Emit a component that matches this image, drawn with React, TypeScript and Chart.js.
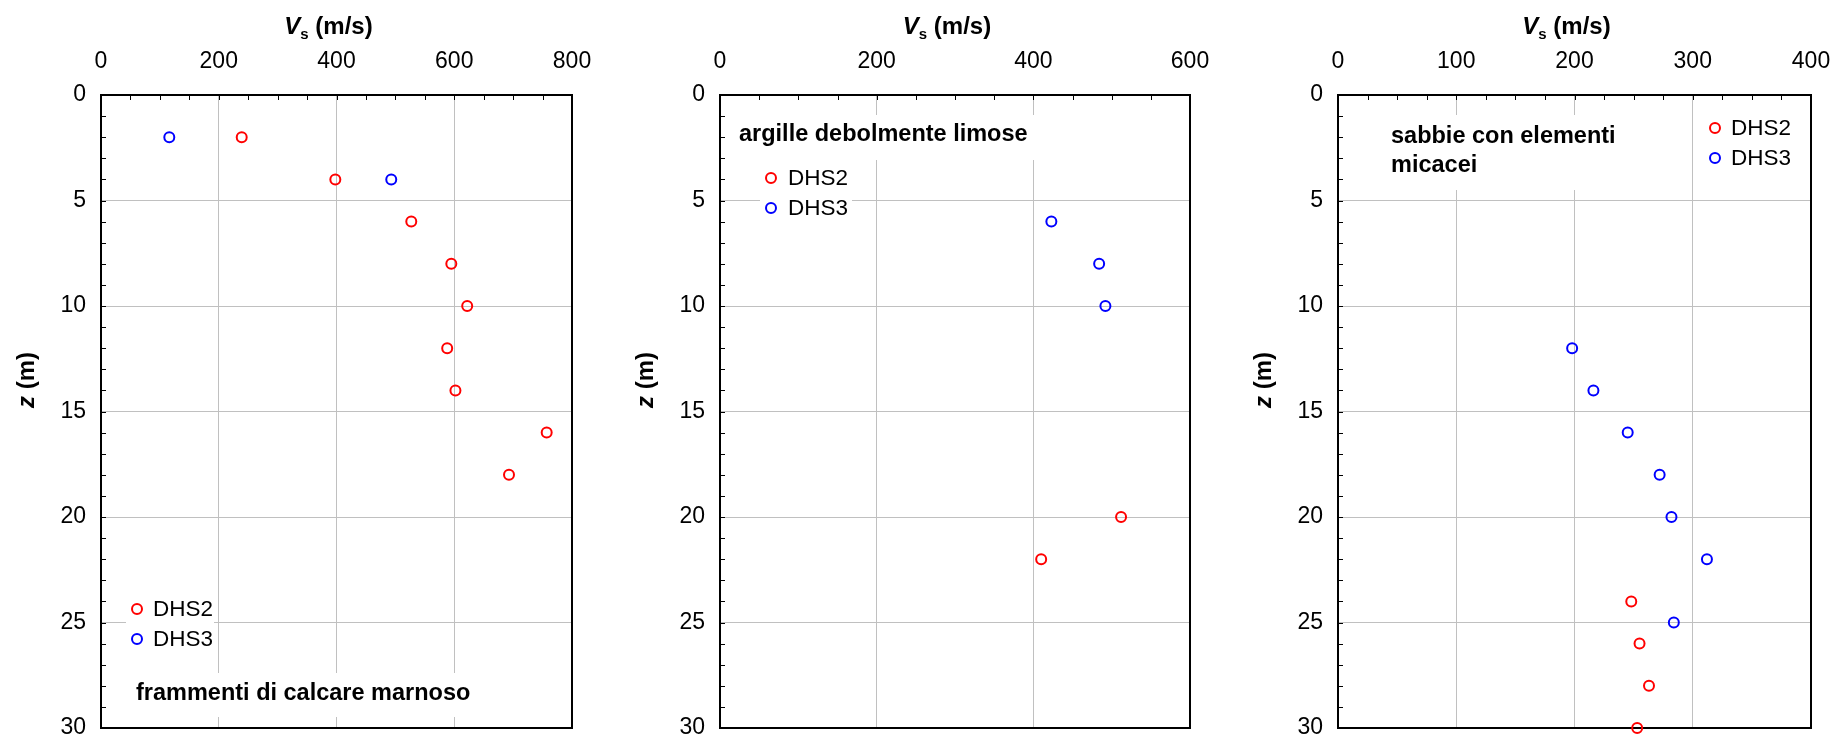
import React, { useEffect, useRef } from "react";
import { Chart, registerables } from "chart.js";

Chart.register(...registerables);

const FONT = "'Liberation Sans', Arial, Helvetica, sans-serif";

// ---------------- data ----------------
const seriesNames = ["DHS2", "DHS3"];
const seriesColors = ["#ff0000", "#0000ff"];

// panel 1 : frammenti di calcare marnoso
const p1Dhs2Depth = [2, 4, 6, 8, 10, 12, 14, 16, 18];
const p1Dhs2Vs = [239, 398, 527, 595, 622, 588, 602, 757, 693];
const p1Dhs3Depth = [2, 4];
const p1Dhs3Vs = [116, 493];

// panel 2 : argille debolmente limose
const p2Dhs2Depth = [20, 22];
const p2Dhs2Vs = [512, 410];
const p2Dhs3Depth = [6, 8, 10];
const p2Dhs3Vs = [423, 484, 492];

// panel 3 : sabbie con elementi micacei
const p3Dhs2Depth = [24, 26, 28, 30];
const p3Dhs2Vs = [248, 255, 263, 253];
const p3Dhs3Depth = [12, 14, 16, 18, 20, 22, 25];
const p3Dhs3Vs = [198, 216, 245, 272, 282, 312, 284];

// axes
const vsMax = [800, 600, 400];
const vsStep = [200, 200, 100];
const vsMinorStep = [50, 50, 25];
const depthMax = 30;
const depthStep = 5;
const depthMinorStep = 1;

const panelLabels = [
  ["frammenti di calcare marnoso"],
  ["argille debolmente limose"],
  ["sabbie con elementi", "micacei"],
];

// ---------------- layout ----------------
const Y_W = 95;
const RIGHT_PAD = 20;
const CANVAS_H = 737;
const PLOT_TOP = 95;
const PLOT_BOTTOM = 728;

type Box = { x0: number; y0: number; x1: number; y1: number };
type PanelLayout = {
  plotLeft: number;
  plotRight: number;
  labelX: number;
  labelY: number[];
  labelBox: Box;
  legendMarkerX: number;
  legendTextX: number;
  legendY: number[];
  legendBox: Box;
};

const layouts: PanelLayout[] = [
  {
    plotLeft: 101,
    plotRight: 572,
    labelX: 35,
    labelY: [599],
    labelBox: { x0: 27, y0: 578, x1: 377, y1: 622 },
    legendMarkerX: 36,
    legendTextX: 52,
    legendY: [514, 544],
    legendBox: { x0: 25, y0: 497, x1: 113, y1: 560 },
  },
  {
    plotLeft: 720,
    plotRight: 1190,
    labelX: 19,
    labelY: [40],
    labelBox: { x0: 14, y0: 20, x1: 314, y1: 65 },
    legendMarkerX: 51,
    legendTextX: 68,
    legendY: [83, 113],
    legendBox: { x0: 40, y0: 68, x1: 132, y1: 130 },
  },
  {
    plotLeft: 1338,
    plotRight: 1811,
    labelX: 53,
    labelY: [42, 71],
    labelBox: { x0: 47, y0: 20, x1: 282, y1: 95 },
    legendMarkerX: 377,
    legendTextX: 393,
    legendY: [33, 63],
    legendBox: { x0: 365, y0: 18, x1: 460, y1: 78 },
  },
];

const panelData = [
  [
    [p1Dhs2Vs, p1Dhs2Depth],
    [p1Dhs3Vs, p1Dhs3Depth],
  ],
  [
    [p2Dhs2Vs, p2Dhs2Depth],
    [p2Dhs3Vs, p2Dhs3Depth],
  ],
  [
    [p3Dhs2Vs, p3Dhs2Depth],
    [p3Dhs3Vs, p3Dhs3Depth],
  ],
];

const MARKER_R = 5;

function makePlugin(idx: number) {
  const L = layouts[idx];
  return {
    id: "decor" + idx,
    beforeDatasetsDraw(chart: any) {
      const ctx = chart.ctx as CanvasRenderingContext2D;
      const a = chart.chartArea;
      const xs = chart.scales.x;
      const ys = chart.scales.y;
      ctx.save();
      // white boxes hiding gridlines behind text
      ctx.fillStyle = "#ffffff";
      for (const b of [L.labelBox, L.legendBox]) {
        ctx.fillRect(a.left + b.x0, a.top + b.y0, b.x1 - b.x0, b.y1 - b.y0);
      }
      // panel label
      ctx.fillStyle = "#000000";
      ctx.font = `bold 23.5px ${FONT}`;
      ctx.textAlign = "left";
      ctx.textBaseline = "middle";
      panelLabels[idx].forEach((t, i) => {
        ctx.fillText(t, a.left + L.labelX, a.top + L.labelY[i]);
      });
      // legend
      ctx.font = `22.5px ${FONT}`;
      seriesNames.forEach((n, i) => {
        const y = a.top + L.legendY[i];
        ctx.beginPath();
        ctx.lineWidth = 2;
        ctx.strokeStyle = seriesColors[i];
        ctx.arc(a.left + L.legendMarkerX, y, MARKER_R, 0, Math.PI * 2);
        ctx.stroke();
        ctx.fillStyle = "#000000";
        ctx.fillText(n, a.left + L.legendTextX, y + 1);
      });
      // inward tick marks
      ctx.strokeStyle = "#000000";
      ctx.lineWidth = 1;
      ctx.beginPath();
      for (let v = 0; v <= depthMax; v += depthMinorStep) {
        const y = Math.round(ys.getPixelForValue(v)) + 0.5;
        ctx.moveTo(a.left, y);
        ctx.lineTo(a.left + 5, y);
      }
      for (let v = 0; v <= vsMax[idx]; v += vsMinorStep[idx]) {
        const x = Math.round(xs.getPixelForValue(v)) + 0.5;
        ctx.moveTo(x, a.top);
        ctx.lineTo(x, a.top + 5);
      }
      ctx.stroke();
      // plot border
      ctx.lineWidth = 2;
      ctx.strokeRect(a.left, a.top, a.right - a.left, a.bottom - a.top);
      ctx.restore();
    },
    afterDraw(chart: any) {
      const ctx = chart.ctx as CanvasRenderingContext2D;
      const a = chart.chartArea;
      ctx.save();
      ctx.fillStyle = "#000000";
      ctx.textBaseline = "alphabetic";
      ctx.textAlign = "left";
      // x title: V_s (m/s)
      const fMain = `bold 24px ${FONT}`;
      const fIt = `italic bold 24px ${FONT}`;
      const fSub = `bold 15px ${FONT}`;
      ctx.font = fIt;
      const wV = ctx.measureText("V").width;
      ctx.font = fSub;
      const wS = ctx.measureText("s").width;
      ctx.font = fMain;
      const wR = ctx.measureText(" (m/s)").width;
      const total = wV + wS + wR;
      let x = (a.left + a.right) / 2 - 8 - total / 2;
      const base = 34;
      ctx.font = fIt;
      ctx.fillText("V", x, base);
      x += wV;
      ctx.font = fSub;
      ctx.fillText("s", x, base + 5);
      x += wS;
      ctx.font = fMain;
      ctx.fillText(" (m/s)", x, base);
      // y title: z (m)
      ctx.translate(a.left - 74, 380);
      ctx.rotate(-Math.PI / 2);
      ctx.textBaseline = "middle";
      ctx.font = fIt;
      const wz = ctx.measureText("z").width;
      ctx.font = fMain;
      const wm = ctx.measureText(" (m)").width;
      let yx = -(wz + wm) / 2;
      ctx.font = fIt;
      ctx.fillText("z", yx, 0);
      yx += wz;
      ctx.font = fMain;
      ctx.fillText(" (m)", yx, 0);
      ctx.restore();
    },
  };
}

function Panel({ idx }: { idx: number }) {
  const ref = useRef<HTMLCanvasElement>(null);
  const L = layouts[idx];
  const width = Y_W + (L.plotRight - L.plotLeft) + RIGHT_PAD;
  const left = L.plotLeft - Y_W;

  useEffect(() => {
    const datasets = panelData[idx].map((s, i) => ({
      label: seriesNames[i],
      data: s[0].map((v, k) => ({ x: v, y: s[1][k] })),
      showLine: false,
      pointStyle: "circle" as const,
      pointRadius: MARKER_R,
      pointHoverRadius: MARKER_R,
      pointBorderWidth: 2,
      pointBackgroundColor: "rgba(0,0,0,0)",
      pointBorderColor: seriesColors[i],
      clip: false as const,
    }));
    const chart = new Chart(ref.current as HTMLCanvasElement, {
      type: "scatter",
      data: { datasets },
      options: {
        animation: false,
        responsive: false,
        events: [],
        layout: { padding: { top: 0, left: 0, right: RIGHT_PAD, bottom: CANVAS_H - PLOT_BOTTOM } },
        plugins: { legend: { display: false }, tooltip: { enabled: false }, title: { display: false } },
        scales: {
          x: {
            type: "linear",
            position: "top",
            min: 0,
            max: vsMax[idx],
            ticks: {
              stepSize: vsStep[idx],
              color: "#000000",
              font: { family: FONT, size: 23 },
              padding: 20,
              maxRotation: 0,
            },
            grid: { color: "#c0c0c0", lineWidth: 1, drawTicks: false },
            border: { display: false },
            afterFit: (s: any) => {
              s.height = PLOT_TOP;
              s.paddingLeft = 0;
              s.paddingRight = 0;
            },
          },
          y: {
            type: "linear",
            position: "left",
            reverse: true,
            min: 0,
            max: depthMax,
            ticks: {
              stepSize: depthStep,
              color: "#000000",
              font: { family: FONT, size: 23 },
              padding: 15,
            },
            grid: { color: "#c0c0c0", lineWidth: 1, drawTicks: false },
            border: { display: false },
            afterFit: (s: any) => {
              s.width = Y_W;
              s.paddingTop = 0;
              s.paddingBottom = 0;
            },
          },
        },
      },
      plugins: [makePlugin(idx)],
    } as any);
    return () => chart.destroy();
  }, [idx]);

  return (
    <canvas
      ref={ref}
      width={width}
      height={CANVAS_H}
      style={{ position: "absolute", left, top: 0, width, height: CANVAS_H }}
    />
  );
}

export default function App() {
  return (
    <div
      style={{
        position: "absolute",
        left: 0,
        top: 0,
        width: 1834,
        height: CANVAS_H,
        overflow: "hidden",
        background: "#ffffff",
      }}
    >
      <Panel idx={0} />
      <Panel idx={1} />
      <Panel idx={2} />
    </div>
  );
}
